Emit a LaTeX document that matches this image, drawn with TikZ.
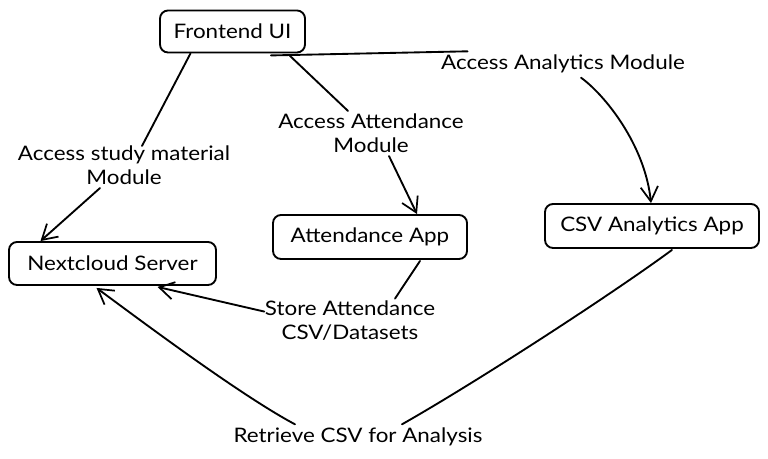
\documentclass[tikz,border=0pt]{standalone}
\usepackage{fontspec}
\setmainfont[FakeStretch=1.12]{Lato}
\usetikzlibrary{arrows.meta,calc}
\tikzset{
  box/.style={draw, line width=1.4pt, rounded corners=6pt, inner sep=0pt,
    font=\fontsize{15}{18}\selectfont, align=center},
  lbl/.style={inner sep=1pt, font=\fontsize{15}{18}\selectfont, align=center},
  conn/.style={line width=1.4pt, line cap=round},
  arr/.style={conn, -{Straight Barb[length=11pt,width=13pt,line width=1.3pt]}}
}
\begin{document}
\begin{tikzpicture}[x=0.75pt,y=-0.75pt]
\useasboundingbox[fill=white] (0,0) rectangle (768,459);
% boxes
\node[box, minimum width=108.75pt, minimum height=31.5pt] (fe) at (232.5,31.5) {Frontend UI};
\node[box, minimum width=155.25pt, minimum height=32.25pt] (nc) at (112.5,263.5) {Nextcloud Server};
\node[box, minimum width=145.5pt, minimum height=33pt] (att) at (370,237) {Attendance App};
\node[box, minimum width=160.5pt, minimum height=33pt] (csv) at (652,226) {CSV Analytics App};
% labels
\node[lbl] (l1) at (124,165) {Access study material\\Module};
\node[lbl] (l2) at (371,133) {Access Attendance\\Module};
\node[lbl] (l3) at (563,64) {Access Analytics Module};
\node[lbl] (l4) at (350,321) {Store Attendance\\CSV/Datasets};
\node[lbl] (l5) at (358,437) {Retrieve CSV for Analysis};
% connector 1
\coordinate (a1) at ($(fe.south)+(-42,0)$);
\coordinate (a2) at ($(l1.north)+(18,2)$);
\coordinate (a3) at ($(l1.south)+(-24,2)$);
\coordinate (a4) at ($(nc.north)+(-72,0)$);
\draw[conn] (a1) -- (a2);
\draw[arr] (a3) -- (a4);
% connector 2
\coordinate (b1) at ($(fe.south)+(57,2)$);
\coordinate (b2) at ($(l2.north)+(-23,-1)$);
\coordinate (b3) at ($(l2.south)+(18,2)$);
\coordinate (b4) at ($(att.north)+(47,0)$);
\draw[conn] (b1) -- (b2);
\draw[arr] (b3) -- (b4);
% connector 3
\coordinate (c1) at ($(fe.south east)+(-35,2)$);
\coordinate (c2) at ($(l3.north west)+(28,-2)$);
\coordinate (c3) at ($(l3.south)+(18,3)$);
\coordinate (c4) at ($(csv.north)+(-1,0)$);
\draw[conn] (c1) -- (c2);
\draw[arr] (c3) .. controls (605,95) and (645,145) .. (c4);
% connector 4
\coordinate (d1) at ($(att.south)+(50,1)$);
\coordinate (d2) at ($(l4.north)+(45,-1)$);
\coordinate (d3) at ($(l4.north west)+(1,12)$);
\coordinate (d4) at ($(nc.south)+(45,1)$);
\draw[conn] (d1) -- (d2);
\draw[arr] (d3) -- (d4);
% connector 5
\coordinate (e1) at ($(csv.south)+(20,1)$);
\coordinate (e2) at ($(l5.north)+(44,-2)$);
\coordinate (e3) at ($(l5.north)+(-63,-2)$);
\coordinate (e4) at ($(nc.south)+(-16,2)$);
\draw[conn] (e1) .. controls (615,292) and (480,380) .. (e2);
\draw[arr] (e3) .. controls (240,395) and (140,320) .. (e4);
\end{tikzpicture}
\end{document}
